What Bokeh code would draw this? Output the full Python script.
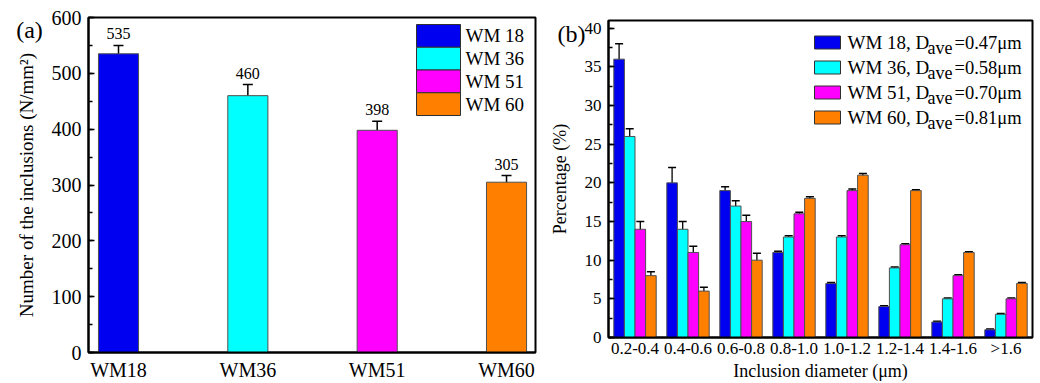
from bokeh.plotting import figure
from bokeh.models import (ColumnDataSource, Range1d, FactorRange, FixedTicker,
                          Whisker, TeeHead, SingleIntervalTicker)
from bokeh.transform import dodge
from bokeh.core.properties import value
from bokeh.embed import file_html
from bokeh.resources import INLINE

# ---------------- data ----------------
samples = ["WM18", "WM36", "WM51", "WM60"]
legend_a = ["WM 18", "WM 36", "WM 51", "WM 60"]
density = [535, 460, 398, 305]
density_err = [15, 20, 16, 12]

diam_bins = ["0.2-0.4", "0.4-0.6", "0.6-0.8", "0.8-1.0", "1.0-1.2", "1.2-1.4", "1.4-1.6", ">1.6"]
series_names = ["WM 18", "WM 36", "WM 51", "WM 60"]
d_ave = ["0.47", "0.58", "0.70", "0.81"]
pct_wm18 = [36, 20, 19, 11, 7, 4, 2, 1]
pct_wm36 = [26, 14, 17, 13, 13, 9, 5, 3]
pct_wm51 = [14, 11, 15, 16, 19, 12, 8, 5]
pct_wm60 = [8, 6, 10, 18, 21, 19, 11, 7]
err_wm18 = [2.0, 2.0, 0.5, 0.15, 0.12, 0.1, 0.1, 0.1]
err_wm36 = [1.0, 1.0, 0.7, 0.15, 0.15, 0.12, 0.1, 0.1]
err_wm51 = [1.0, 0.8, 0.8, 0.2, 0.2, 0.12, 0.1, 0.1]
err_wm60 = [0.5, 0.5, 0.9, 0.2, 0.2, 0.12, 0.1, 0.1]

panel_tags = ["(a)", "(b)"]
colors = ["#0000F0", "#00FFFF", "#FF00FF", "#FF8000"]
FONT = "Liberation Serif"

# ---------------- panel (a) ----------------
XA0, XA1 = 0.768, 4.224
p1 = figure(width=540, height=383, x_range=Range1d(XA0, XA1), y_range=Range1d(0, 600),
            output_backend="svg", toolbar_location=None,
            min_border_left=88, min_border_right=5, min_border_top=17, min_border_bottom=31)

def ax(px):
    return XA0 + (px - 88) * (XA1 - XA0) / (535 - 88)

def ay(py):
    return 600 * (352 - py) / 335

xs = list(range(1, len(samples) + 1))
src_a = ColumnDataSource(dict(
    x=xs, y=density,
    upper=[v + e for v, e in zip(density, density_err)],
    lower=[v - e for v, e in zip(density, density_err)],
    color=colors, label=[str(v) for v in density]))
p1.vbar(x="x", top="y", width=0.31, fill_color="color", line_color="#505050",
        line_width=1, source=src_a)
p1.add_layout(Whisker(source=src_a, base="x", upper="upper", lower="lower",
                      line_width=1.5, line_color="black",
                      upper_head=TeeHead(size=10, line_width=1.5),
                      lower_head=TeeHead(size=10, line_width=1.5)))
p1.text(x="x", y="upper", text="label", source=src_a, text_align="center",
        text_baseline="bottom", y_offset=-6, text_font=value(FONT),
        text_font_size="16px", text_color="black")

# legend (a)
rows_a = [24 + 11.375 + 22.75 * i for i in range(4)]
p1.rect(x=[ax(438)] * 4, y=[ay(r) for r in rows_a], width=44, height=22.75,
        width_units="screen", height_units="screen", fill_color=colors,
        line_color="#303030", line_width=1)
p1.text(x=[ax(465)] * 4, y=[ay(r) for r in rows_a], text=legend_a,
        text_align="left", text_baseline="middle", text_font=value(FONT),
        text_font_size="19px", text_color="black")

p1.xaxis.ticker = FixedTicker(ticks=xs)
p1.xaxis.major_label_overrides = {x: s for x, s in zip(xs, samples)}
p1.xaxis.major_tick_in = 0
p1.xaxis.major_tick_out = 0
p1.xaxis.minor_tick_line_color = None
p1.xaxis.major_label_standoff = 6
p1.yaxis.ticker = SingleIntervalTicker(interval=100, num_minor_ticks=2)
p1.yaxis.major_tick_in = 6
p1.yaxis.major_tick_out = 0
p1.yaxis.minor_tick_in = 4
p1.yaxis.minor_tick_out = 0
p1.yaxis.major_label_standoff = 7
p1.yaxis.axis_label = "Number of the inclusions (N/mm²)"
p1.yaxis.axis_label_standoff = 12

# ---------------- panel (b) ----------------
YB1 = 41
p2 = figure(width=500, height=383, x_range=FactorRange(*diam_bins), y_range=Range1d(0, YB1),
            output_backend="svg", toolbar_location=None,
            min_border_left=68, min_border_right=8, min_border_top=20, min_border_bottom=46)

def bx(px):
    return (px - 608) / 53.0

def by(py):
    return YB1 * (337 - py) / 317

pcts = [pct_wm18, pct_wm36, pct_wm51, pct_wm60]
errs = [err_wm18, err_wm36, err_wm51, err_wm60]
for i, (vals, ers) in enumerate(zip(pcts, errs)):
    off = -0.3 + 0.2 * i
    s = ColumnDataSource(dict(bin=diam_bins, v=vals,
                              upper=[v + e for v, e in zip(vals, ers)],
                              lower=[v - e for v, e in zip(vals, ers)]))
    p2.vbar(x=dodge("bin", off, range=p2.x_range), top="v", width=0.2, source=s,
            fill_color=colors[i], line_color="#505050", line_width=1)
    p2.add_layout(Whisker(source=s, base=dodge("bin", off, range=p2.x_range),
                          upper="upper", lower="lower", line_width=1.3, line_color="black",
                          upper_head=TeeHead(size=8, line_width=1.5),
                          lower_head=TeeHead(size=8, line_width=1.5)))

# legend (b)
rows_b = [42 + 25 * i for i in range(4)]
p2.rect(x=[bx(827)] * 4, y=[by(r) for r in rows_b], width=26, height=13,
        width_units="screen", height_units="screen", fill_color=colors,
        line_color="#303030", line_width=1)
p2.text(x=[bx(847)] * 4, y=[by(r) for r in rows_b],
        text=[f"{n}, D" for n in series_names], text_align="left", text_baseline="middle",
        text_font=value(FONT), text_font_size="19px", text_color="black")
p2.text(x=[bx(927)] * 4, y=[by(r + 5) for r in rows_b], text=["ave"] * 4,
        text_align="left", text_baseline="middle",
        text_font=value(FONT), text_font_size="18px", text_color="black")
p2.text(x=[bx(954)] * 4, y=[by(r) for r in rows_b],
        text=[f"={d}μm" for d in d_ave], text_align="left", text_baseline="middle",
        text_font=value(FONT), text_font_size="18.5px", text_color="black")

p2.xaxis.major_tick_in = 0
p2.xaxis.major_tick_out = 0
p2.xaxis.major_label_standoff = 1
p2.xaxis.axis_label = "Inclusion diameter (μm)"
p2.xaxis.axis_label_standoff = 0
p2.yaxis.ticker = SingleIntervalTicker(interval=5, num_minor_ticks=2)
p2.yaxis.major_tick_in = 6
p2.yaxis.major_tick_out = 0
p2.yaxis.minor_tick_in = 4
p2.yaxis.minor_tick_out = 0
p2.yaxis.major_label_standoff = 7
p2.yaxis.axis_label = "Percentage (%)"
p2.yaxis.axis_label_standoff = 12

# ---------------- common styling ----------------
for p, tick_fs, lab_fs in ((p1, "20px", "19px"), (p2, "17px", "18px")):
    p.xgrid.visible = False
    p.ygrid.visible = False
    p.outline_line_color = "black"
    p.outline_line_width = 2
    p.background_fill_color = "white"
    p.border_fill_color = "white"
    for a in (p.xaxis[0], p.yaxis[0]):
        a.axis_line_width = 2
        a.axis_line_color = "black"
        a.major_tick_line_width = 1.5
        a.minor_tick_line_width = 1.5
        a.major_label_text_font = FONT
        a.major_label_text_font_size = tick_fs
        a.major_label_text_color = "black"
        a.axis_label_text_font = FONT
        a.axis_label_text_font_size = lab_fs
        a.axis_label_text_font_style = "normal"
        a.axis_label_text_color = "black"

# small transparent overlay figures carrying the panel tags "(a)" and "(b)"
def tag_figure(tag, left, top):
    t = figure(width=44, height=34, x_range=Range1d(0, 1), y_range=Range1d(0, 1),
               output_backend="svg", toolbar_location=None, min_border=0,
               styles={"position": "absolute", "left": f"{left}px", "top": f"{top}px"})
    t.axis.visible = False
    t.grid.visible = False
    t.outline_line_color = None
    t.background_fill_alpha = 0
    t.border_fill_alpha = 0
    t.text(x=[0.5], y=[0.5], text=[tag], text_align="center", text_baseline="middle",
           text_font=value(FONT), text_font_size="24px", text_color="black")
    return t

ta = tag_figure(panel_tags[0], 7, 12)
tb = tag_figure(panel_tags[1], 549, 16)

# independent roots side by side (no frame alignment between the panels)
TEMPLATE = """
{% block postamble %}
<style>
html, body { margin: 0; padding: 0; }
body { display: flex; flex-direction: row; align-items: flex-start; position: relative; }
</style>
{% endblock %}
"""
open("out.html", "w").write(file_html([p1, p2, ta, tb], INLINE, title="Inclusions",
                                      template=TEMPLATE))
